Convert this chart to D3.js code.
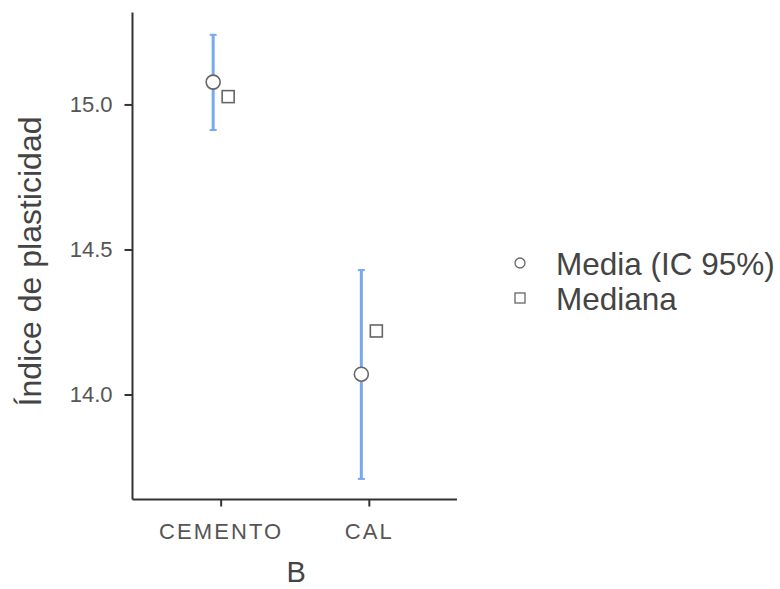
<!DOCTYPE html>
<html>
<head>
<meta charset="utf-8">
<script src="https://cdn.jsdelivr.net/npm/d3@7"></script>
<style>
  body { margin: 0; background: #fff; }
  svg { display: block; font-family: "Liberation Sans", Arial, sans-serif; }
</style>
</head>
<body>
<svg id="chart" width="780" height="589"></svg>
<script>
// Plasticity index by group B: mean with 95% CI and median
const categories = ["CEMENTO", "CAL"];
const means      = [15.077, 14.07];
const ciLow      = [14.912, 13.709];
const ciHigh     = [15.240, 14.429];
const medians    = [15.027, 14.219];
const yTicks     = [14.0, 14.5, 15.0];
const legendLabels = ["Media (IC 95%)", "Mediana"];

const svg = d3.select("#chart");
const plotLeft = 132.5, plotRight = 457, plotTop = 12.5, plotBottom = 499.5;

const x = d3.scalePoint().domain(categories).range([plotLeft, plotRight]).padding(0.595);
const y = d3.scaleLinear().domain([13.638, 15.317]).range([plotBottom, plotTop]);

const dodge = 7.5;
const axisColor = "#333";
const textColor = "#555";

// Y axis
const yAxis = svg.append("g")
  .attr("transform", `translate(${plotLeft},0)`)
  .call(d3.axisLeft(y).tickValues(yTicks).tickFormat(d3.format(".1f")).tickSize(8).tickPadding(12))
  .attr("font-family", null).attr("font-size", null);
yAxis.select(".domain").attr("stroke", axisColor).attr("stroke-width", 2)
  .attr("d", `M0,${plotTop}V${plotBottom}`);
yAxis.selectAll(".tick line").attr("stroke", axisColor).attr("stroke-width", 2);
yAxis.selectAll(".tick text").attr("fill", textColor).style("font-size", "22px");

// X axis
const xAxis = svg.append("g")
  .attr("transform", `translate(0,${plotBottom})`)
  .call(d3.axisBottom(x).tickSize(7).tickPadding(0))
  .attr("font-family", null).attr("font-size", null);
xAxis.select(".domain").attr("stroke", axisColor).attr("stroke-width", 2)
  .attr("d", `M${plotLeft},0H${plotRight}`);
xAxis.selectAll(".tick line").attr("stroke", axisColor).attr("stroke-width", 2);
xAxis.selectAll(".tick text").attr("fill", textColor).style("font-size", "22px")
  .style("letter-spacing", "2.1px")
  .attr("dy", null).attr("y", 39.5);

// Axis titles
svg.append("text")
  .attr("transform", `translate(41,261.5) rotate(-90)`)
  .attr("text-anchor", "middle")
  .attr("fill", "#444")
  .style("font-size", "32px")
  .text("Índice de plasticidad");

svg.append("text")
  .attr("x", x(categories[0]) + (x(categories[1]) - x(categories[0])) / 2 + 1.5)
  .attr("y", 582)
  .attr("text-anchor", "middle")
  .attr("fill", "#444")
  .style("font-size", "29px")
  .text("B");

const rows = categories.map((c, i) => ({ c, mean: means[i], lo: ciLow[i], hi: ciHigh[i], med: medians[i] }));

// Confidence interval bars
const ciColor = "#78a8f0";
const bars = svg.append("g");
bars.selectAll("line.ci").data(rows).join("line")
  .attr("x1", d => x(d.c) - dodge).attr("x2", d => x(d.c) - dodge)
  .attr("y1", d => y(d.lo)).attr("y2", d => y(d.hi))
  .attr("stroke", ciColor).attr("stroke-width", 3);
bars.selectAll("line.capLo").data(rows).join("line")
  .attr("x1", d => x(d.c) - dodge - 3.5).attr("x2", d => x(d.c) - dodge + 3.5)
  .attr("y1", d => y(d.lo)).attr("y2", d => y(d.lo))
  .attr("stroke", ciColor).attr("stroke-width", 2);
bars.selectAll("line.capHi").data(rows).join("line")
  .attr("x1", d => x(d.c) - dodge - 3.5).attr("x2", d => x(d.c) - dodge + 3.5)
  .attr("y1", d => y(d.hi)).attr("y2", d => y(d.hi))
  .attr("stroke", ciColor).attr("stroke-width", 2);

// Means (circles)
const markStroke = "#666";
svg.append("g").selectAll("circle").data(rows).join("circle")
  .attr("cx", d => x(d.c) - dodge).attr("cy", d => y(d.mean))
  .attr("r", 7).attr("fill", "#fff")
  .attr("stroke", markStroke).attr("stroke-width", 1.6);

// Medians (squares)
const sq = 12;
svg.append("g").selectAll("rect").data(rows).join("rect")
  .attr("x", d => x(d.c) + dodge - sq / 2).attr("y", d => y(d.med) - sq / 2)
  .attr("width", sq).attr("height", sq).attr("fill", "#fff")
  .attr("stroke", markStroke).attr("stroke-width", 1.6);

// Legend
const legend = svg.append("g").attr("transform", "translate(520,263)");
legend.append("circle").attr("cx", 0).attr("cy", 0).attr("r", 5)
  .attr("fill", "#fff").attr("stroke", markStroke).attr("stroke-width", 1.3);
legend.append("rect").attr("x", -5).attr("y", 30).attr("width", 10).attr("height", 10)
  .attr("fill", "#fff").attr("stroke", markStroke).attr("stroke-width", 1.3);
legend.selectAll("text").data(legendLabels).join("text")
  .attr("x", 36).attr("y", (d, i) => i * 35 + 11.5)
  .attr("fill", "#444")
  .style("font-size", "31.5px")
  .text(d => d);
</script>
</body>
</html>
